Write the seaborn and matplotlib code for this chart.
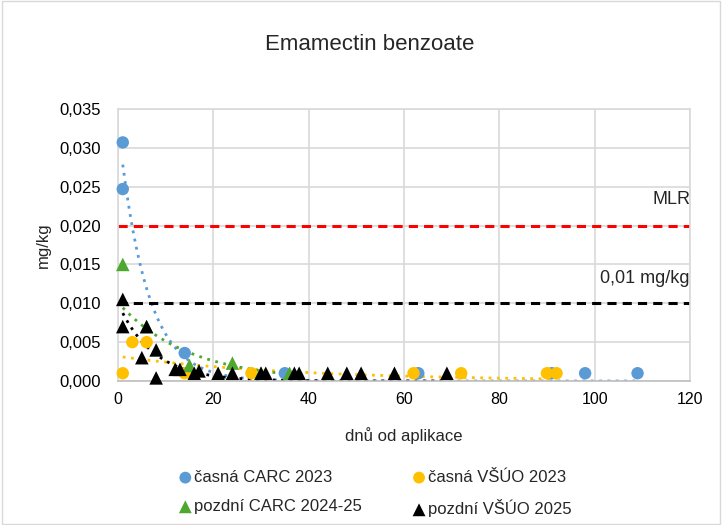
import numpy as np
import pandas as pd
import matplotlib
matplotlib.use("Agg")
import matplotlib.pyplot as plt
import seaborn as sns
from matplotlib.patches import Rectangle
from matplotlib.ticker import FuncFormatter

# ---- data ----
blue_x = [1, 1, 14, 35, 63, 91, 98, 109]
blue_y = [0.0307, 0.0247, 0.0036, 0.001, 0.001, 0.001, 0.001, 0.001]
yellow_x = [1, 3, 6, 14, 28, 62, 72, 90, 92]
yellow_y = [0.001, 0.005, 0.005, 0.001, 0.001, 0.001, 0.001, 0.001, 0.001]
green_x = [1, 6, 15, 24, 30, 36]
green_y = [0.015, 0.007, 0.002, 0.0023, 0.001, 0.001]
black_x = [1, 1, 5, 6, 8, 8, 12, 13, 16, 17, 21, 24, 30, 31, 37, 38, 44, 48, 51, 58, 69]
black_y = [0.0105, 0.007, 0.003, 0.007, 0.0004, 0.004, 0.0015, 0.0015, 0.001, 0.0013,
           0.001, 0.001, 0.001, 0.001, 0.001, 0.001, 0.001, 0.001, 0.001, 0.001, 0.001]

series_names = ["časná CARC 2023", "časná VŠÚO 2023", "pozdní CARC 2024-25", "pozdní VŠÚO 2025"]
# exponential trendline parameters (y = a * exp(b * x))
trend_a = [0.033, 0.00318, 0.0101, 0.0100]
trend_b = [-0.170, -0.027, -0.068, -0.135]

mlr_value = 0.02
limit_value = 0.01

colors = ["#5B9BD5", "#FFC000", "#4EA72E", "#000000"]
markers = ["o", "o", "^", "^"]

xs = [blue_x, yellow_x, green_x, black_x]
ys = [blue_y, yellow_y, green_y, black_y]

frames = []
for name, x, y in zip(series_names, xs, ys):
    frames.append(pd.DataFrame({"x": x, "y": y, "series": name}))
df = pd.concat(frames, ignore_index=True)

sns.set_style("white")
plt.rcParams["font.family"] = ["Liberation Sans", "DejaVu Sans"]

fig = plt.figure(figsize=(7.22, 5.25), dpi=100)
ax = fig.add_axes([118 / 722, 1 - 381 / 525, (690 - 118) / 722, (381 - 109) / 525])

grid_c = "#D9D9D9"
ax.set_xlim(0, 120)
ax.set_ylim(0, 0.035)
ax.set_xticks(np.arange(0, 121, 20))
ax.set_yticks(np.arange(0, 0.0351, 0.005))
ax.grid(True, color=grid_c, linewidth=1.2)
ax.set_axisbelow(True)
for s in ax.spines.values():
    s.set_color(grid_c)
    s.set_linewidth(1.2)
ax.spines["bottom"].set_color("#BFBFBF")

# trendlines
for name, x, a, b, c in zip(series_names, xs, trend_a, trend_b, colors):
    tx = np.linspace(min(x), max(x), 300)
    tdf = pd.DataFrame({"x": tx, "y": a * np.exp(b * tx)})
    sns.lineplot(data=tdf, x="x", y="y", ax=ax, color=c, linestyle=(0, (1, 2)),
                 linewidth=2.0, legend=False, zorder=2)

# reference lines
ax.axhline(mlr_value, color="#FF0000", linestyle=(0, (3, 2)), linewidth=2.2, zorder=2)
ax.axhline(limit_value, color="#000000", linestyle=(0, (3, 2)), linewidth=2.2, zorder=2)
ax.text(120, 0.0233, "MLR", fontsize=13, ha="right", va="center")
ax.text(120, 0.01325, "0,01 mg/kg", fontsize=13, ha="right", va="center")

# points
for name, c, m in zip(series_names, colors, markers):
    sub = df[df["series"] == name]
    sns.scatterplot(data=sub, x="x", y="y", ax=ax, color=c, marker=m,
                    s=80 if m == "o" else 95, edgecolor="none", label=name,
                    zorder=3, clip_on=False)

ax.yaxis.set_major_formatter(FuncFormatter(lambda v, p: f"{v:.3f}".replace(".", ",")))
ax.tick_params(axis="y", length=0, labelsize=12, colors="#000000", pad=12)
ax.tick_params(axis="x", length=0, labelsize=11.5, colors="#000000", pad=8)
ax.set_xlabel("dnů od aplikace", fontsize=12, labelpad=14)
ax.set_ylabel("mg/kg", fontsize=12, labelpad=6)

fig.text(0.512, 1 - 45 / 525, "Emamectin benzoate", fontsize=16, ha="center", va="center")

h, l = ax.get_legend_handles_labels()
order = [0, 2, 1, 3]
leg = ax.legend([h[i] for i in order], [l[i] for i in order], ncol=2, frameon=False,
                loc="upper left", bbox_to_anchor=(162 / 722, 1 - 455 / 525),
                bbox_transform=fig.transFigure, fontsize=12, handletextpad=0.05,
                columnspacing=2.9, labelspacing=0.85, markerscale=0.95, handlelength=1.0)

fig.patches.append(Rectangle((0.003, 0.002), 0.994, 0.996, transform=fig.transFigure,
                             fill=False, edgecolor="#D9D9D9", linewidth=1.0))

fig.savefig("out.png", dpi=100)
